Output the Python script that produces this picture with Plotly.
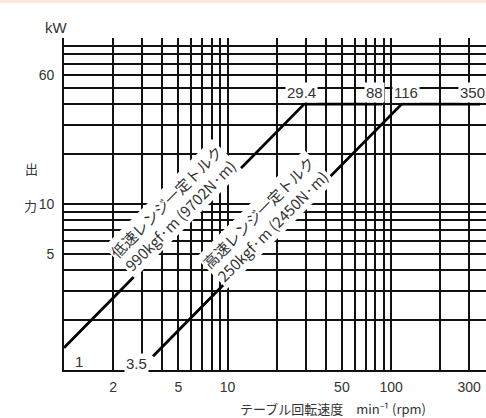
import math
import plotly.graph_objects as go

# Output curves (table speed in min^-1, output in kW)
low_rpm = [1, 29.4, 88]
low_kw = [1.36, 40, 40]
high_rpm = [3.5, 116, 350]
high_kw = [1.21, 40, 40]

# Grid / tick values
x_grid = [1, 2, 3, 4, 5, 6, 7, 8, 9, 10, 20, 30, 40, 50, 60, 70, 80, 90, 100, 200, 300]
x_labels = {2: "2", 5: "5", 10: "10", 50: "50", 100: "100", 300: "300"}
y_grid = [1, 2, 3, 4, 5, 6, 7, 8, 9, 10, 20, 30, 40, 50, 60, 70, 80, 90, 100]
y_labels = {5: "5", 10: "10", 60: "60"}

# Breakpoint labels along the 50 kW line
break_vals = [29.4, 88, 116, 350]
break_text = ["29.4", "88", "116", "350"]
break_shift = [-3, -8, 4, -8]

num_font = "Liberation Sans Narrow, Liberation Sans, Noto Sans CJK JP"
jp_font = "Noto Sans CJK JP, Liberation Sans Narrow"
ink = "#111111"
text_col = "#333333"

fig = go.Figure()
for xs, ys in [(low_rpm, low_kw), (high_rpm, high_kw)]:
    fig.add_trace(go.Scatter(x=xs, y=ys, mode="lines",
                             line=dict(color="#000000", width=2.8),
                             showlegend=False, hoverinfo="skip"))

fig.update_xaxes(type="log", range=[0, 2.58],
                 tickvals=x_grid,
                 ticktext=[x_labels.get(v, "") for v in x_grid],
                 showgrid=True, gridcolor=ink, gridwidth=1.5,
                 showline=True, linecolor=ink, linewidth=1.8,
                 ticks="", zeroline=False, ticklabelstandoff=3,
                 tickfont=dict(family=num_font, size=14, color=text_col))
fig.update_yaxes(type="log", range=[0, 2],
                 tickvals=y_grid,
                 ticktext=[y_labels.get(v, "") for v in y_grid],
                 showgrid=True, gridcolor=ink, gridwidth=1.5,
                 showline=True, linecolor=ink, linewidth=1.8,
                 ticks="", zeroline=False, ticklabelstandoff=5,
                 tickfont=dict(family=num_font, size=14, color=text_col))

ann = []
# Rotated torque labels with white boxes over the grid
ann.append(dict(x=0.668, y=0.975, xref="x", yref="y", textangle=-45,
                text="低速レンジ一定トルク<br>990kgf·m (9702N·m)",
                showarrow=False, bgcolor="white",
                font=dict(family=jp_font, size=15, color=text_col)))
ann.append(dict(x=1.232, y=0.904, xref="x", yref="y", textangle=-45,
                text="高速レンジ一定トルク<br>250kgf·m (2450N·m)",
                showarrow=False, bgcolor="white",
                font=dict(family=jp_font, size=15, color=text_col)))

for v, t, s in zip(break_vals, break_text, break_shift):
    ann.append(dict(x=math.log10(v), y=math.log10(47), xref="x", yref="y",
                    text=t, showarrow=False, bgcolor="white", xshift=s,
                    borderpad=1,
                    font=dict(family=num_font, size=15, color=text_col)))

ann.append(dict(x=math.log10(low_rpm[0]), y=math.log10(1.13), xref="x", yref="y",
                text="1", showarrow=False, xanchor="left", xshift=9,
                font=dict(family=num_font, size=15, color=text_col)))
ann.append(dict(x=math.log10(high_rpm[0]), y=math.log10(1.1), xref="x", yref="y",
                text="3.5", showarrow=False, xanchor="right", xshift=-4,
                bgcolor="white", borderpad=1,
                font=dict(family=num_font, size=15, color=text_col)))

# Unit and axis titles (placed in pixels, converted below)
ann.append(dict(x=56, y=418 - 27, xref="paper", yref="paper", text="kW",
                showarrow=False, font=dict(family=num_font, size=15, color=text_col)))
ann.append(dict(x=31, y=418 - 168, xref="paper", yref="paper", text="出",
                showarrow=False, font=dict(family=jp_font, size=13, color=text_col)))
ann.append(dict(x=30, y=418 - 205, xref="paper", yref="paper", text="力",
                showarrow=False, font=dict(family=jp_font, size=13, color=text_col)))
ann.append(dict(x=333, y=418 - 409, xref="paper", yref="paper",
                text="テーブル回転速度　min⁻¹ (rpm)",
                showarrow=False, font=dict(family=jp_font, size=13, color=text_col)))

W, H = 486, 418
L, R, T, B = 64, 0, 38, 48
pw, ph = W - L - R, H - T - B
for a in ann:
    if a.get("xref") == "paper":
        a["x"] = (a["x"] - L) / pw
        a["y"] = (a["y"] - B) / ph
        a["xanchor"] = "center"
        a["yanchor"] = "middle"

fig.update_layout(
    width=W, height=H,
    margin=dict(l=L, r=R, t=T, b=B),
    paper_bgcolor="white", plot_bgcolor="white",
    annotations=ann,
    shapes=[dict(type="rect", xref="paper", yref="paper",
                 x0=-L / pw, x1=1, y0=(H - 3 - B) / ph, y1=(H - B) / ph,
                 fillcolor="#fbe6dc", line=dict(width=0), layer="below")],
)

fig.write_html("out.html")
